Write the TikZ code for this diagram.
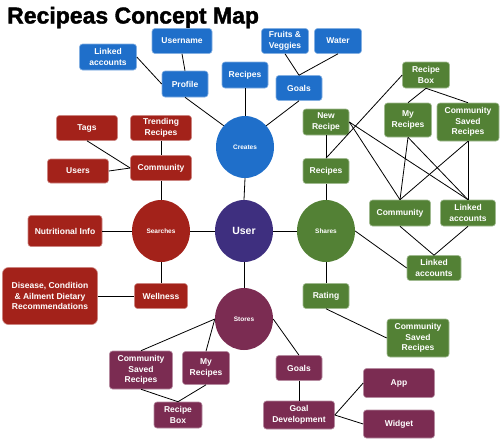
\documentclass[tikz,border=0pt]{standalone}
\usepackage{fontspec}
\setmainfont{Liberation Sans}
\newfontfamily\titlefont{Liberation Sans}[UprightFont={* Bold}, UprightFeatures={FakeBold=1.6}]
\usetikzlibrary{shapes.geometric}
\definecolor{cblue}{HTML}{1F6FCA}
\definecolor{cred}{HTML}{A3221A}
\definecolor{cgreen}{HTML}{538135}
\definecolor{cmaroon}{HTML}{7B2C52}
\definecolor{cpurple}{HTML}{3E2F7F}
\tikzset{
  boxbase/.style={rectangle, rounded corners=3pt, inner sep=0pt, align=center, text=white,
    font=\bfseries\fontsize{8.5}{10.5}\selectfont, line width=0.6pt},
  bbox/.style={boxbase, fill=cblue, draw=cblue!55!white},
  rbox/.style={boxbase, fill=cred, draw=cred!55!white},
  gbox/.style={boxbase, fill=cgreen, draw=cgreen!55!white},
  mbox/.style={boxbase, fill=cmaroon, draw=cmaroon!55!white},
  circbase/.style={ellipse, inner sep=0pt, minimum width=58pt, minimum height=62pt, text=white,
    font=\bfseries\fontsize{6.5}{7}\selectfont},
  link/.style={line width=0.8pt, black}
}
\begin{document}
\begin{tikzpicture}[x=1pt,y=-1pt]
\useasboundingbox[fill=white] (0,0) rectangle (500,440);
\node[anchor=base west, inner sep=0pt, font=\titlefont\fontsize{23}{26}\selectfont] (title) at (7,23.5) {Recipeas Concept Map};

% circles
\node[circbase, fill=cpurple, font=\bfseries\fontsize{10.5}{12}\selectfont] (user) at (244,231) {User};
\node[circbase, fill=cblue] (creates) at (245,147) {Creates};
\node[circbase, fill=cred] (searches) at (161,231) {Searches};
\node[circbase, fill=cgreen] (shares) at (326,231) {Shares};
\node[circbase, fill=cmaroon] (stores) at (244,319) {Stores};

% blue
\node[bbox, minimum width=57pt, minimum height=26pt] (laB) at (108,57) {Linked\\accounts};
\node[bbox, minimum width=60pt, minimum height=25pt] (username) at (182,41) {Username};
\node[bbox, minimum width=46pt, minimum height=26pt] (profile) at (185,84) {Profile};
\node[bbox, minimum width=46pt, minimum height=26pt] (recB) at (245,75) {Recipes};
\node[bbox, minimum width=47pt, minimum height=25pt] (fruits) at (285,41) {Fruits \&\\Veggies};
\node[bbox, minimum width=47pt, minimum height=25pt] (water) at (338,41) {Water};
\node[bbox, minimum width=46pt, minimum height=25pt] (goalsB) at (299,88) {Goals};

% red
\node[rbox, minimum width=61pt, minimum height=25pt] (tags) at (87,128) {Tags};
\node[rbox, minimum width=61pt, minimum height=25pt] (trend) at (161,128) {Trending\\Recipes};
\node[rbox, minimum width=61pt, minimum height=24pt] (users) at (78,171) {Users};
\node[rbox, minimum width=61pt, minimum height=25pt] (comR) at (161,168) {Community};
\node[rbox, minimum width=74pt, minimum height=31pt] (nutri) at (65,231) {Nutritional Info};
\node[rbox, minimum width=53pt, minimum height=25pt] (well) at (161,296) {Wellness};
\node[rbox, minimum width=95pt, minimum height=57pt, rounded corners=6pt] (disease) at (50,296) {Disease, Condition\\\& Ailment Dietary\\Recommendations};

% green
\node[gbox, minimum width=46pt, minimum height=26pt] (newrec) at (326,122) {New\\Recipe};
\node[gbox, minimum width=47pt, minimum height=26pt] (rboxG) at (426,75) {Recipe\\Box};
\node[gbox, minimum width=47pt, minimum height=34pt] (myrecG) at (408,120) {My\\Recipes};
\node[gbox, minimum width=62pt, minimum height=38pt] (csrG) at (468,122) {Community\\Saved\\Recipes};
\node[gbox, minimum width=46pt, minimum height=25pt] (recG) at (326,171) {Recipes};
\node[gbox, minimum width=61pt, minimum height=26pt] (comG) at (400,213) {Community};
\node[gbox, minimum width=55pt, minimum height=26pt] (laG1) at (468,213) {Linked\\accounts};
\node[gbox, minimum width=54pt, minimum height=25pt] (laG2) at (434,268) {Linked\\accounts};
\node[gbox, minimum width=46pt, minimum height=25pt] (rating) at (326,296) {Rating};
\node[gbox, minimum width=62pt, minimum height=38pt] (csrG2) at (418,338) {Community\\Saved\\Recipes};

% maroon
\node[mbox, minimum width=63pt, minimum height=38pt] (csrM) at (141,370) {Community\\Saved\\Recipes};
\node[mbox, minimum width=47pt, minimum height=33pt] (myrecM) at (206,368) {My\\Recipes};
\node[mbox, minimum width=48pt, minimum height=26pt] (rboxM) at (178,415) {Recipe\\Box};
\node[mbox, minimum width=46pt, minimum height=25pt] (goalsM) at (299,368) {Goals};
\node[mbox, minimum width=71pt, minimum height=28pt] (goaldev) at (299,415) {Goal\\Development};
\node[mbox, minimum width=71pt, minimum height=29pt] (app) at (399,383) {App};
\node[mbox, minimum width=71pt, minimum height=28pt] (widget) at (399,424) {Widget};

% blue links
\draw[link] (laB.east) -- (profile.west);
\draw[link] (username.south) -- (profile.north);
\draw[link] (profile.south) -- (creates.135);
\draw[link] (recB.south) -- (creates.north);
\draw[link] (goalsB.south) -- (creates.45);
\draw[link] (fruits.south) -- (goalsB.north);
\draw[link] (water.south) -- (goalsB.north);
\draw[link] (user.north) -- (creates.south);

% red links
\draw[link] (tags.south) -- (comR.west);
\draw[link] (users.east) -- (comR.west);
\draw[link] (trend.south) -- (comR.north);
\draw[link] (comR.south) -- (searches.north);
\draw[link] (nutri.east) -- (searches.west);
\draw[link] (searches.east) -- (user.west);
\draw[link] (searches.south) -- (well.north);
\draw[link] (disease.east) -- (well.west);

% green links
\draw[link] (user.east) -- (shares.west);
\draw[link] (recG.south) -- (shares.north);
\draw[link] (newrec.south) -- (recG.north);
\draw[link] (recG.north) -- (rboxG.west);
\draw[link] (rboxG.south) -- (myrecG.north);
\draw[link] (rboxG.south) -- (csrG.north);
\draw[link] (newrec.east) -- (comG.north);
\draw[link] (newrec.east) -- (laG1.north);
\draw[link] (myrecG.south) -- (comG.north);
\draw[link] (myrecG.south) -- (laG1.north);
\draw[link] (csrG.south) -- (comG.north);
\draw[link] (csrG.south) -- (laG1.north);
\draw[link] (comG.south) -- (laG2.north);
\draw[link] (laG1.south) -- (laG2.north);
\draw[link] (shares.east) -- (laG2.west);
\draw[link] (shares.south) -- (rating.north);
\draw[link] (rating.south) -- (csrG2.west);

% maroon links
\draw[link] (user.south) -- (stores.north);
\draw[link] (stores.west) -- (csrM.north);
\draw[link] (stores.west) -- (myrecM.north);
\draw[link] (csrM.south) -- (rboxM.north);
\draw[link] (myrecM.south) -- (rboxM.north);
\draw[link] (stores.east) -- (goalsM.north);
\draw[link] (goalsM.south) -- (goaldev.north);
\draw[link] (goaldev.east) -- (app.west);
\draw[link] (goaldev.east) -- (widget.west);
\end{tikzpicture}
\end{document}
